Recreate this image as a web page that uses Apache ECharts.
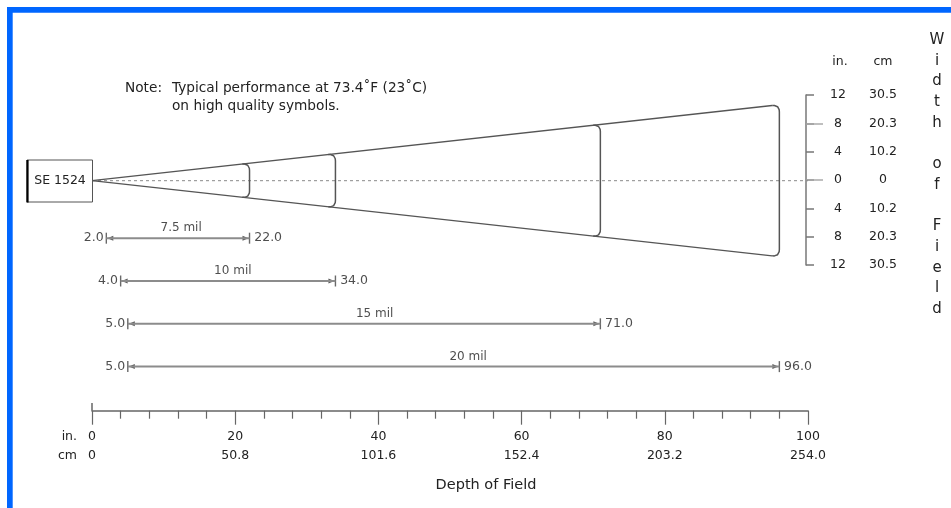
<!DOCTYPE html>
<html>
<head>
<meta charset="utf-8">
<script src="https://cdn.jsdelivr.net/npm/echarts@6/dist/echarts.min.js"></script>
<style>
  html, body { margin: 0; padding: 0; background: #fff; }
  #chart { width: 951px; height: 508px; }
</style>
</head>
<body>
<div id="chart"></div>
<script>
// ---- data ----
const depthTicksIn = [0, 20, 40, 60, 80, 100];
const depthTicksCm = ['0', '50.8', '101.6', '152.4', '203.2', '254.0'];
const widthTicksIn = [12, 8, 4, 0, 4, 8, 12];          // top to bottom
const widthTicksCm = ['30.5', '20.3', '10.2', '0', '10.2', '20.3', '30.5'];
const barcodeDensity = ['7.5 mil', '10 mil', '15 mil', '20 mil'];
const nearRange = [2.0, 4.0, 5.0, 5.0];
const farRange = [22.0, 34.0, 71.0, 96.0];
const beamDepth = [0, 96];
const beamHalfWidth = [0, 10.7];
const scannerName = 'SE 1524';

// ---- layout / styling ----
const FONT = "'DejaVu Sans', 'Liberation Sans', Arial, sans-serif";
const TXT = '#222';
const Y_MIN = -32.4, Y_MAX = 14;
const slope = (beamHalfWidth[1] - beamHalfWidth[0]) / (beamDepth[1] - beamDepth[0]);
const hAt = d => beamHalfWidth[0] + slope * (d - beamDepth[0]);
const RX = 1.0, RY = 1.0;

function bracketPoints(R) {
  const h = hAt(R);
  const p0 = [R - RX, hAt(R - RX)], c = [R, h], p1 = [R, h - RY];
  const top = [];
  for (let k = 0; k <= 6; k++) {
    const t = k / 6;
    top.push([
      (1 - t) * (1 - t) * p0[0] + 2 * t * (1 - t) * c[0] + t * t * p1[0],
      (1 - t) * (1 - t) * p0[1] + 2 * t * (1 - t) * c[1] + t * t * p1[1]
    ]);
  }
  const bottom = top.slice().reverse().map(p => [p[0], -p[1]]);
  return top.concat(bottom);
}

const series = [];
const lineGray = '#555';

// center dashed line
series.push({
  type: 'line', xAxisIndex: 0, yAxisIndex: 0, symbol: 'none', silent: true,
  data: [[depthTicksIn[0], 0], [depthTicksIn[depthTicksIn.length - 1], 0]],
  lineStyle: { color: '#8a8a8a', width: 1, type: [3, 3] }, z: 1
});
// beam edges
const endD = beamDepth[1];
[1, -1].forEach(s => {
  series.push({
    type: 'line', xAxisIndex: 0, yAxisIndex: 0, symbol: 'none', silent: true,
    data: [[beamDepth[0], s * beamHalfWidth[0]], [endD - RX, s * hAt(endD - RX)]],
    lineStyle: { color: lineGray, width: 1.3 }
  });
});
// brackets at the far limits
farRange.forEach(R => {
  series.push({
    type: 'line', xAxisIndex: 0, yAxisIndex: 0, symbol: 'none', silent: true,
    data: bracketPoints(R),
    lineStyle: { color: lineGray, width: 1.5 }
  });
});

// range rows
barcodeDensity.forEach((name, i) => {
  const y = -8.1 - 6.03 * i;
  const n = nearRange[i], f = farRange[i];
  series.push({
    type: 'line', xAxisIndex: 0, yAxisIndex: 0, symbol: 'none', silent: true,
    data: [[n, y], [f, y]],
    lineStyle: { color: '#8c8c8c', width: 2 }
  });
  series.push({
    type: 'scatter', xAxisIndex: 0, yAxisIndex: 0, silent: true,
    symbol: 'rect', symbolSize: [1.4, 11],
    itemStyle: { color: '#444' },
    data: [
      { value: [n, y], label: { show: true, position: 'left', distance: 2, formatter: n.toFixed(1) } },
      { value: [f, y], label: { show: true, position: 'right', distance: 4, formatter: f.toFixed(1) } }
    ],
    label: { color: TXT, fontSize: 12.5, fontFamily: FONT }
  });
  series.push({
    type: 'scatter', xAxisIndex: 0, yAxisIndex: 0, silent: true,
    symbol: 'triangle', symbolSize: [5, 6],
    itemStyle: { color: '#333' },
    data: [
      { value: [n, y], symbolRotate: 90, symbolOffset: [4, 0] },
      { value: [f, y], symbolRotate: -90, symbolOffset: [-4, 0] }
    ]
  });
  series.push({
    type: 'scatter', xAxisIndex: 0, yAxisIndex: 0, silent: true,
    symbolSize: 0,
    data: [[(n + f) / 2, y]],
    label: {
      show: true, position: 'inside', offset: [0.16 * (f - n), -10],
      formatter: name, color: TXT, fontSize: 12, fontFamily: FONT
    }
  });
});

// small start mark above the depth axis at 0
series.push({
  type: 'line', xAxisIndex: 0, yAxisIndex: 0, symbol: 'none', silent: true, clip: false,
  data: [[depthTicksIn[0], Y_MIN], [depthTicksIn[0], Y_MIN + 1.1]],
  lineStyle: { color: '#666', width: 1.5 }
});

const option = {
  animation: false,
  backgroundColor: '#fff',
  textStyle: { fontFamily: FONT },
  grid: [
    { left: 92, top: 81.3, width: 716, height: 329.4 },
    { left: 806, top: 95, width: 60, height: 170 },
    { left: 806, top: 123.3, width: 60, height: 56.7 }
  ],
  xAxis: [
    {
      gridIndex: 0, type: 'value', min: 0, max: 100, interval: 20,
      axisLine: { onZero: false, lineStyle: { color: '#666', width: 1.5 } },
      axisTick: { length: 14, lineStyle: { color: '#666', width: 1.2 } },
      minorTick: { show: true, splitNumber: 5, length: 8, lineStyle: { color: '#666', width: 1.2 } },
      splitLine: { show: false }, minorSplitLine: { show: false },
      axisLabel: {
        margin: 16, fontSize: 12.5, lineHeight: 19.5, color: TXT, fontFamily: FONT,
        formatter: v => {
          const k = depthTicksIn.indexOf(v);
          return k < 0 ? '' : depthTicksIn[k] + '\n' + depthTicksCm[k];
        }
      },
      name: 'Depth of Field', nameLocation: 'middle', nameGap: 67,
      nameTextStyle: { fontSize: 14.5, color: TXT, fontFamily: FONT, padding: [0, 0, 0, 72] }
    },
    { gridIndex: 1, type: 'value', min: 0, max: 1, show: false },
    { gridIndex: 2, type: 'value', min: 0, max: 1, show: false }
  ],
  yAxis: [
    { gridIndex: 0, type: 'value', min: Y_MIN, max: Y_MAX, show: false },
    {
      gridIndex: 1, type: 'value', min: -12, max: 12, interval: 4, position: 'left',
      axisLine: { show: true, onZero: false, lineStyle: { color: '#777', width: 1.5 } },
      axisTick: { show: true, inside: true, length: 8, lineStyle: { color: '#777', width: 1.5 } },
      splitLine: { show: false },
      axisLabel: {
        inside: true, margin: 32, align: 'center', fontSize: 12.5, color: TXT, fontFamily: FONT,
        formatter: v => widthTicksIn[Math.round((12 - v) / 4)]
      }
    },
    {
      gridIndex: 1, type: 'value', min: -12, max: 12, interval: 4, position: 'left',
      axisLine: { show: false, onZero: false }, axisTick: { show: false }, splitLine: { show: false },
      axisLabel: {
        inside: true, margin: 77, align: 'center', fontSize: 12.5, color: TXT, fontFamily: FONT,
        formatter: v => widthTicksCm[Math.round((12 - v) / 4)]
      }
    },
    {
      gridIndex: 2, type: 'value', min: 0, max: 8, interval: 8, position: 'left',
      axisLine: { show: false, onZero: false }, splitLine: { show: false }, axisLabel: { show: false },
      axisTick: { show: true, inside: true, length: 17, lineStyle: { color: '#aaa', width: 1.5 } }
    }
  ],
  graphic: [
    { type: 'rect', shape: { x: 7, y: 7, width: 944, height: 5.7 }, style: { fill: '#0066ff' }, silent: true },
    { type: 'rect', shape: { x: 7, y: 7, width: 5.7, height: 501 }, style: { fill: '#0066ff' }, silent: true },
    { type: 'rect', shape: { x: 27, y: 160, width: 65.5, height: 42 }, style: { fill: '#fff', stroke: '#555', lineWidth: 1 }, z: 10 },
    { type: 'line', shape: { x1: 27.5, y1: 160, x2: 27.5, y2: 202.5 }, style: { stroke: '#000', lineWidth: 2.2 }, z: 11 },
    { type: 'text', x: 60, y: 181, z: 12, style: { text: scannerName, align: 'center', verticalAlign: 'middle', fontSize: 12.5, fill: TXT, fontFamily: FONT } },
    { type: 'text', x: 125, y: 88, style: { text: 'Note:', verticalAlign: 'middle', fontSize: 13.7, fill: TXT, fontFamily: FONT } },
    { type: 'text', x: 172, y: 88, style: { text: 'Typical performance at 73.4\u02DAF (23\u02DAC)', verticalAlign: 'middle', fontSize: 13.7, fill: TXT, fontFamily: FONT } },
    { type: 'text', x: 172, y: 106, style: { text: 'on high quality symbols.', verticalAlign: 'middle', fontSize: 13.7, fill: TXT, fontFamily: FONT } },
    { type: 'text', x: 840, y: 61.5, style: { text: 'in.', align: 'center', verticalAlign: 'middle', fontSize: 12.5, fill: TXT, fontFamily: FONT } },
    { type: 'text', x: 883, y: 61.5, style: { text: 'cm', align: 'center', verticalAlign: 'middle', fontSize: 12.5, fill: TXT, fontFamily: FONT } },
    { type: 'text', x: 77, y: 436.7, style: { text: 'in.', align: 'right', verticalAlign: 'middle', fontSize: 12.5, fill: TXT, fontFamily: FONT } },
    { type: 'text', x: 77, y: 455.5, style: { text: 'cm', align: 'right', verticalAlign: 'middle', fontSize: 12.5, fill: TXT, fontFamily: FONT } },
    { type: 'text', x: 937, y: 29.6, style: { text: 'W\ni\nd\nt\nh\n\no\nf\n\nF\ni\ne\nl\nd', align: 'center', verticalAlign: 'top', lineHeight: 20.7, fontSize: 15, fill: TXT, fontFamily: FONT } }
  ],
  series: series
};

const chart = echarts.init(document.getElementById('chart'), null, { renderer: 'canvas' });
chart.setOption(option);
</script>
</body>
</html>
